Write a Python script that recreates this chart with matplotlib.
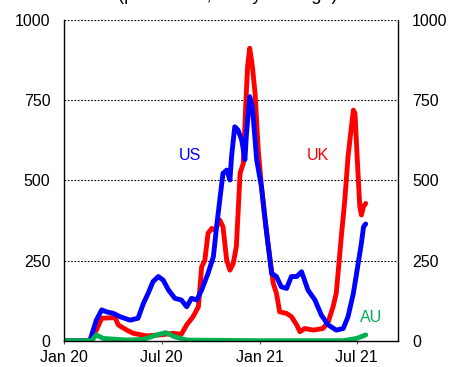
import matplotlib.pyplot as plt
import pandas as pd

plt.rcParams['font.family'] = ['Liberation Sans', 'DejaVu Sans']

uk_dates = ["2020-01-01", "2020-02-18", "2020-02-21", "2020-03-01", "2020-03-11", "2020-04-05",
            "2020-04-11", "2020-04-27", "2020-05-09", "2020-06-03", "2020-06-28", "2020-07-23",
            "2020-08-07", "2020-08-17", "2020-08-29", "2020-09-08", "2020-09-14", "2020-09-20",
            "2020-09-26", "2020-10-03", "2020-10-09", "2020-10-18", "2020-10-24", "2020-10-31",
            "2020-11-06", "2020-11-12", "2020-11-18", "2020-11-25", "2020-12-01", "2020-12-06",
            "2020-12-09", "2020-12-13", "2020-12-18", "2020-12-23", "2020-12-29", "2021-01-04",
            "2021-01-10", "2021-01-17", "2021-01-26", "2021-02-01", "2021-02-07", "2021-02-20",
            "2021-03-01", "2021-03-11", "2021-03-17", "2021-03-26", "2021-04-11", "2021-04-29",
            "2021-05-09", "2021-05-18", "2021-05-24", "2021-06-03", "2021-06-09", "2021-06-15",
            "2021-06-20", "2021-06-25", "2021-06-28", "2021-07-03", "2021-07-07", "2021-07-10",
            "2021-07-14", "2021-07-18"]
uk_values = [0, 0, 12, 33, 70, 72,
             49, 33, 23, 15, 18, 23,
             20, 49, 75, 106, 230, 250,
             335, 350, 345, 376, 355, 250,
             220, 240, 293, 522, 553, 750,
             855, 912, 855, 771, 595, 480,
             387, 293, 179, 148, 90, 85,
             75, 49, 28, 38, 33, 38,
             59, 106, 148, 335, 439, 574,
             647, 719, 709, 543, 418, 392,
             418, 428]

us_dates = ["2020-01-01", "2020-02-18", "2020-02-24", "2020-03-01", "2020-03-11", "2020-03-20",
            "2020-04-02", "2020-04-14", "2020-05-03", "2020-05-18", "2020-05-28", "2020-06-06",
            "2020-06-15", "2020-06-25", "2020-07-04", "2020-07-14", "2020-07-26", "2020-08-07",
            "2020-08-17", "2020-08-26", "2020-09-05", "2020-09-14", "2020-09-26", "2020-10-06",
            "2020-10-12", "2020-10-18", "2020-10-24", "2020-10-31", "2020-11-06", "2020-11-09",
            "2020-11-15", "2020-11-21", "2020-11-28", "2020-12-04", "2020-12-07", "2020-12-13",
            "2020-12-18", "2020-12-26", "2021-01-04", "2021-01-13", "2021-01-23", "2021-02-01",
            "2021-02-10", "2021-02-20", "2021-03-01", "2021-03-11", "2021-03-20", "2021-04-01",
            "2021-04-14", "2021-04-26", "2021-05-09", "2021-05-24", "2021-06-06", "2021-06-15",
            "2021-06-25", "2021-07-04", "2021-07-10", "2021-07-14", "2021-07-18"]
us_values = [0, 0, 33, 64, 96, 90,
             85, 75, 64, 70, 116, 148,
             184, 200, 189, 158, 132, 127,
             106, 132, 127, 158, 210, 262,
             355, 439, 522, 532, 501, 574,
             667, 657, 626, 564, 647, 761,
             730, 564, 480, 345, 210, 200,
             168, 163, 200, 200, 215, 158,
             127, 80, 49, 33, 38, 75,
             148, 241, 304, 355, 364]

au_dates = ["2020-01-01", "2020-02-21", "2020-03-01", "2020-03-14", "2020-04-27", "2020-05-28",
            "2020-06-22", "2020-07-09", "2020-07-26", "2020-08-17", "2021-01-01", "2021-06-06",
            "2021-07-01", "2021-07-18"]
au_values = [0, 0, 18, 7, 2, 4,
             18, 25, 12, 2, 0, 0,
             7, 18]

tick_dates = ["2020-01-01", "2020-07-01", "2021-01-01", "2021-07-01"]
tick_labels = ["Jan 20", "Jul 20", "Jan 21", "Jul 21"]

fig = plt.figure(figsize=(4.49, 3.67), dpi=100)
ax = fig.add_axes([0.1432, 0.0717, 0.7438, 0.8738])

lw = 3.5
ax.plot(pd.to_datetime(uk_dates), uk_values, color="#FF0000", lw=lw, solid_capstyle="round")
ax.plot(pd.to_datetime(us_dates), us_values, color="#0000FF", lw=lw, solid_capstyle="round")
ax.plot(pd.to_datetime(au_dates), au_values, color="#00B050", lw=lw, solid_capstyle="round")

ax.set_xlim(pd.Timestamp("2020-01-01"), pd.Timestamp("2021-09-17"))
ax.set_ylim(0, 1000)
ax.set_yticks([0, 250, 500, 750, 1000])
for v in [250, 500, 750, 1000]:
    ax.axhline(v, color="black", lw=0.8, ls=(0, (1.5, 1.5)), zorder=0)

ax.set_xticks(pd.to_datetime(tick_dates))
ax.set_xticklabels(tick_labels)
ax.tick_params(axis="x", direction="out", length=2, width=0.8, color="#555555", labelsize=11.5, pad=4.5)
ax.tick_params(axis="y", length=0, labelsize=11.5, pad=10, labelright=True, right=False)

for s in ax.spines.values():
    s.set_linewidth(1.0)
ax.spines["top"].set_visible(False)

ax.text(pd.Timestamp("2020-08-23"), 579, "US", color="#0000FF", fontsize=11.5, ha="center", va="center")
ax.text(pd.Timestamp("2021-04-19"), 579, "UK", color="#FF0000", fontsize=11.5, ha="center", va="center")
ax.text(pd.Timestamp("2021-07-29"), 71, "AU", color="#00B050", fontsize=11.5, ha="center", va="center")

# title sits mostly above the top edge, as in the source image
fig.text(0.507, 1.001, "(per million, 7-day average)", fontsize=13, ha="center", va="baseline")

fig.savefig("out.png", dpi=100)
